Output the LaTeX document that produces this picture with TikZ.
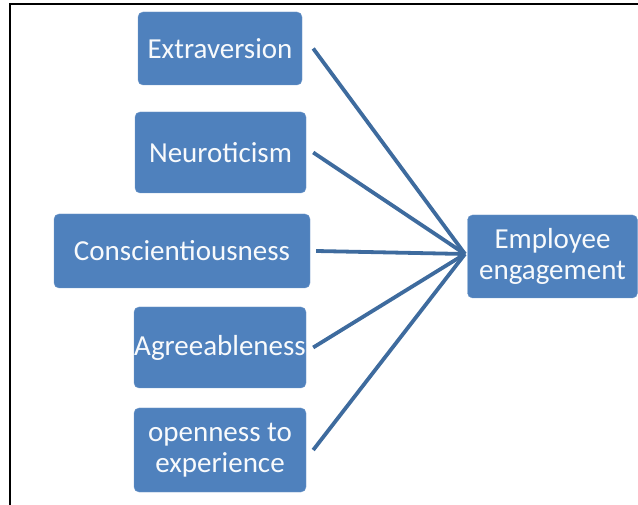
\documentclass[tikz,border=0pt]{standalone}
\usepackage{fontspec}
\setmainfont{Carlito}
\usepackage{xcolor}
\usetikzlibrary{positioning,calc}
\definecolor{boxblue}{HTML}{4F81BD}
\definecolor{linkblue}{HTML}{3E6B9E}

\begin{document}
\begin{tikzpicture}[x=1pt,y=-1pt,
    trait/.style={rectangle, rounded corners=5pt, fill=boxblue, draw=boxblue!80!white, text=white!96!boxblue,
        align=center, inner sep=0pt, minimum width=171pt, minimum height=81pt, font=\fontsize{29}{31}\selectfont},
    link/.style={draw=linkblue, line width=3.8pt}]
    \useasboundingbox (0,0) rectangle (638,505);
    % frame, only top and left edges show
    \draw[line width=2pt] (10,505) -- (10,4) -- (638,4);

    \node[trait, minimum width=164pt, minimum height=73pt] (ext) at (220,48.5) {Extraversion};
    \node[trait] (neu) at (220.5,152.5) {Neuroticism};
    \node[trait, minimum width=256pt, minimum height=74pt] (con) at (182,251) {Conscientiousness};
    \node[trait, minimum width=172pt] (agr) at (220,347.5) {Agreeableness};
    \node[trait, minimum width=172pt, minimum height=84pt] (opn) at (220,450) {openness to\\experience};

    \node[trait, minimum width=170pt, minimum height=83pt] (emp) at (552.5,256.5) {Employee\\engagement};

    \coordinate (hub) at (465,254);
    \foreach \n/\gap in {ext/11,neu/7,con/6,agr/7,opn/7}
        \draw[link] ($(\n.east)+(\gap,0)$) -- (hub);
\end{tikzpicture}
\end{document}
